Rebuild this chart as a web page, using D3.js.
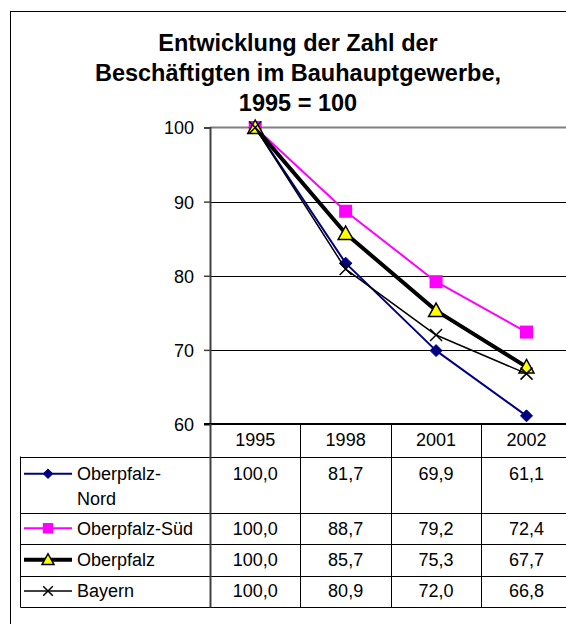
<!DOCTYPE html>
<html>
<head>
<meta charset="utf-8">
<script src="https://cdn.jsdelivr.net/npm/d3@7"></script>
<style>
  html, body { margin: 0; padding: 0; background: #fff; }
  svg { display: block; }
  text { font-family: "Liberation Sans", Arial, Helvetica, sans-serif; fill: #000; }
</style>
</head>
<body>
<script>
// ---------------- data ----------------
const years = ["1995", "1998", "2001", "2002"];
const seriesNames = ["Oberpfalz-Nord", "Oberpfalz-Süd", "Oberpfalz", "Bayern"];
const labelLines = [["Oberpfalz-", "Nord"], ["Oberpfalz-Süd"], ["Oberpfalz"], ["Bayern"]];
const nord = [100.0, 81.7, 69.9, 61.1];
const sued = [100.0, 88.7, 79.2, 72.4];
const oberpfalz = [100.0, 85.7, 75.3, 67.7];
const bayern = [100.0, 80.9, 72.0, 66.8];
const yTicks = [60, 70, 80, 90, 100];
const titleLines = ["Entwicklung der Zahl der", "Beschäftigten im Bauhauptgewerbe,", "1995 = 100"];

// ---------------- styles ----------------
const styles = [
  { color: "#000080", width: 2, marker: "diamond" },
  { color: "#FF00FF", width: 2, marker: "square" },
  { color: "#000000", width: 4, marker: "triangle" },
  { color: "#000000", width: 1.5, marker: "x" }
];
const allValues = [nord, sued, oberpfalz, bayern];

const W = 566, H = 624;
const svg = d3.select("body").append("svg").attr("width", W).attr("height", H);

// outer chart border (extends beyond the visible area)
svg.append("rect").attr("x", 10.5).attr("y", 11.5).attr("width", 700).attr("height", 700)
  .attr("fill", "#fff").attr("stroke", "#000").attr("stroke-width", 1);

// title
const title = svg.append("text").attr("text-anchor", "middle")
  .style("font-size", "23.5px").style("font-weight", "bold");
titleLines.forEach((t, i) => {
  title.append("tspan").attr("x", 298).attr("y", 51 + i * 30).text(t);
});

// scales
const plotLeft = 210, plotTop = 127.5, plotBottom = 424;
const colW = 90.43;
const x = d3.scaleBand().domain(years).range([plotLeft, plotLeft + colW * years.length]).padding(0);
const y = d3.scaleLinear().domain([60, 100]).range([plotBottom, plotTop]);

// gridlines
const g = svg.append("g");
g.selectAll("line.grid").data(yTicks.filter(t => t > 60 && t < 100)).join("line")
  .attr("x1", plotLeft).attr("x2", W + 20)
  .attr("y1", d => Math.round(y(d)) + 0.5).attr("y2", d => Math.round(y(d)) + 0.5)
  .attr("stroke", "#000").attr("stroke-width", 1);
// top border line (grey)
g.append("line").attr("x1", plotLeft).attr("x2", W + 20)
  .attr("y1", y(100)).attr("y2", y(100))
  .attr("stroke", "#808080").attr("stroke-width", 2);

// y axis
const yAxis = d3.axisLeft(y).tickValues(yTicks).tickSize(6).tickPadding(10);
const ya = svg.append("g").attr("transform", `translate(${plotLeft},0)`).call(yAxis);
ya.select(".domain").attr("stroke", "#404040").attr("stroke-width", 2);
ya.selectAll(".tick line").attr("stroke", "#404040").attr("stroke-width", 1.5);
ya.selectAll(".tick text").style("font-size", "18px").attr("font-family", null)
  .attr("dy", "0.36em");

// bottom axis line
svg.append("line").attr("x1", plotLeft - 6).attr("x2", W + 20)
  .attr("y1", plotBottom).attr("y2", plotBottom)
  .attr("stroke", "#000").attr("stroke-width", 2);

// ---------------- markers ----------------
function drawMarker(sel, type, cx, cy, scale, color) {
  const s = scale;
  if (type === "diamond") {
    sel.append("path").attr("d", `M${cx},${cy - 6 * s}L${cx + 6 * s},${cy}L${cx},${cy + 6 * s}L${cx - 6 * s},${cy}Z`)
      .attr("fill", color).attr("stroke", color).attr("stroke-width", 1);
  } else if (type === "square") {
    sel.append("rect").attr("x", cx - 6.5 * s).attr("y", cy - 6.5 * s)
      .attr("width", 13 * s).attr("height", 13 * s).attr("fill", color);
  } else if (type === "triangle") {
    sel.append("path").attr("d", `M${cx},${cy - 7.5 * s}L${cx + 7.5 * s},${cy + 6 * s}L${cx - 7.5 * s},${cy + 6 * s}Z`)
      .attr("fill", "#FFFF00").attr("stroke", "#000").attr("stroke-width", 1.5);
  } else if (type === "x") {
    sel.append("path").attr("d", `M${cx - 6 * s},${cy - 6 * s}L${cx + 6 * s},${cy + 6 * s}M${cx + 6 * s},${cy - 6 * s}L${cx - 6 * s},${cy + 6 * s}`)
      .attr("stroke", "#000").attr("stroke-width", 1.5).attr("fill", "none");
  }
}

// series lines + markers
const xc = d => x(d) + x.bandwidth() / 2;
const line = d3.line().x(d => xc(d.year)).y(d => y(d.value));
allValues.forEach((vals, i) => {
  const pts = years.map((yr, j) => ({ year: yr, value: vals[j] }));
  const sg = svg.append("g");
  sg.append("path").datum(pts).attr("d", line).attr("fill", "none")
    .attr("stroke", styles[i].color).attr("stroke-width", styles[i].width)
    .attr("stroke-linejoin", "round");
  pts.forEach(p => drawMarker(sg, styles[i].marker, xc(p.year), y(p.value), 1, styles[i].color));
});

// ---------------- data table ----------------
const fmt = d3.formatLocale({ decimal: ",", thousands: ".", grouping: [3], currency: ["", "€"] }).format(".1f");
const tableLeft = 20.5, headerTop = plotBottom, headerBottom = 456.5;
const rowHeights = [56, 31.5, 31.5, 31];
const rowTops = [headerBottom];
rowHeights.forEach((h, i) => rowTops.push(rowTops[i] + h));
const tableBottom = rowTops[rowTops.length - 1];
const tableRight = x.range()[1];

const tg = svg.append("g");
// horizontal lines
rowTops.forEach(t => {
  tg.append("line").attr("x1", tableLeft).attr("x2", tableRight)
    .attr("y1", Math.round(t) + 0.5).attr("y2", Math.round(t) + 0.5)
    .attr("stroke", "#000").attr("stroke-width", 1);
});
// left border
tg.append("line").attr("x1", tableLeft).attr("x2", tableLeft)
  .attr("y1", headerBottom).attr("y2", Math.round(tableBottom) + 0.5)
  .attr("stroke", "#000").attr("stroke-width", 1);
// column separators
years.concat(["end"]).forEach((yr, i) => {
  const xx = i < years.length ? x(yr) : tableRight;
  tg.append("line").attr("x1", Math.round(xx) + 0.5).attr("x2", Math.round(xx) + 0.5)
    .attr("y1", headerTop).attr("y2", Math.round(tableBottom) + 0.5)
    .attr("stroke", i === 0 ? "#404040" : "#000").attr("stroke-width", i === 0 ? 2 : 1);
});
// header labels
years.forEach(yr => {
  tg.append("text").attr("x", xc(yr)).attr("y", 446).attr("text-anchor", "middle")
    .style("font-size", "18px").text(yr);
});
// rows
allValues.forEach((vals, i) => {
  const top = rowTops[i], h = rowHeights[i];
  const multi = labelLines[i].length > 1;
  const baseY = multi ? top + 23.5 : top + h / 2 + 6.3;
  const keyY = baseY - 6.3;
  // legend key
  tg.append("line").attr("x1", 24).attr("x2", 72).attr("y1", keyY).attr("y2", keyY)
    .attr("stroke", styles[i].color).attr("stroke-width", styles[i].width);
  drawMarker(tg, styles[i].marker, 48, keyY, 0.8, styles[i].color);
  // label
  const lt = tg.append("text").style("font-size", "18px");
  labelLines[i].forEach((ln, k) => {
    lt.append("tspan").attr("x", 77).attr("y", baseY + k * 24.5).text(ln);
  });
  // values
  years.forEach((yr, j) => {
    tg.append("text").attr("x", xc(yr)).attr("y", baseY).attr("text-anchor", "middle")
      .style("font-size", "18px").text(fmt(vals[j]));
  });
});
</script>
</body>
</html>
